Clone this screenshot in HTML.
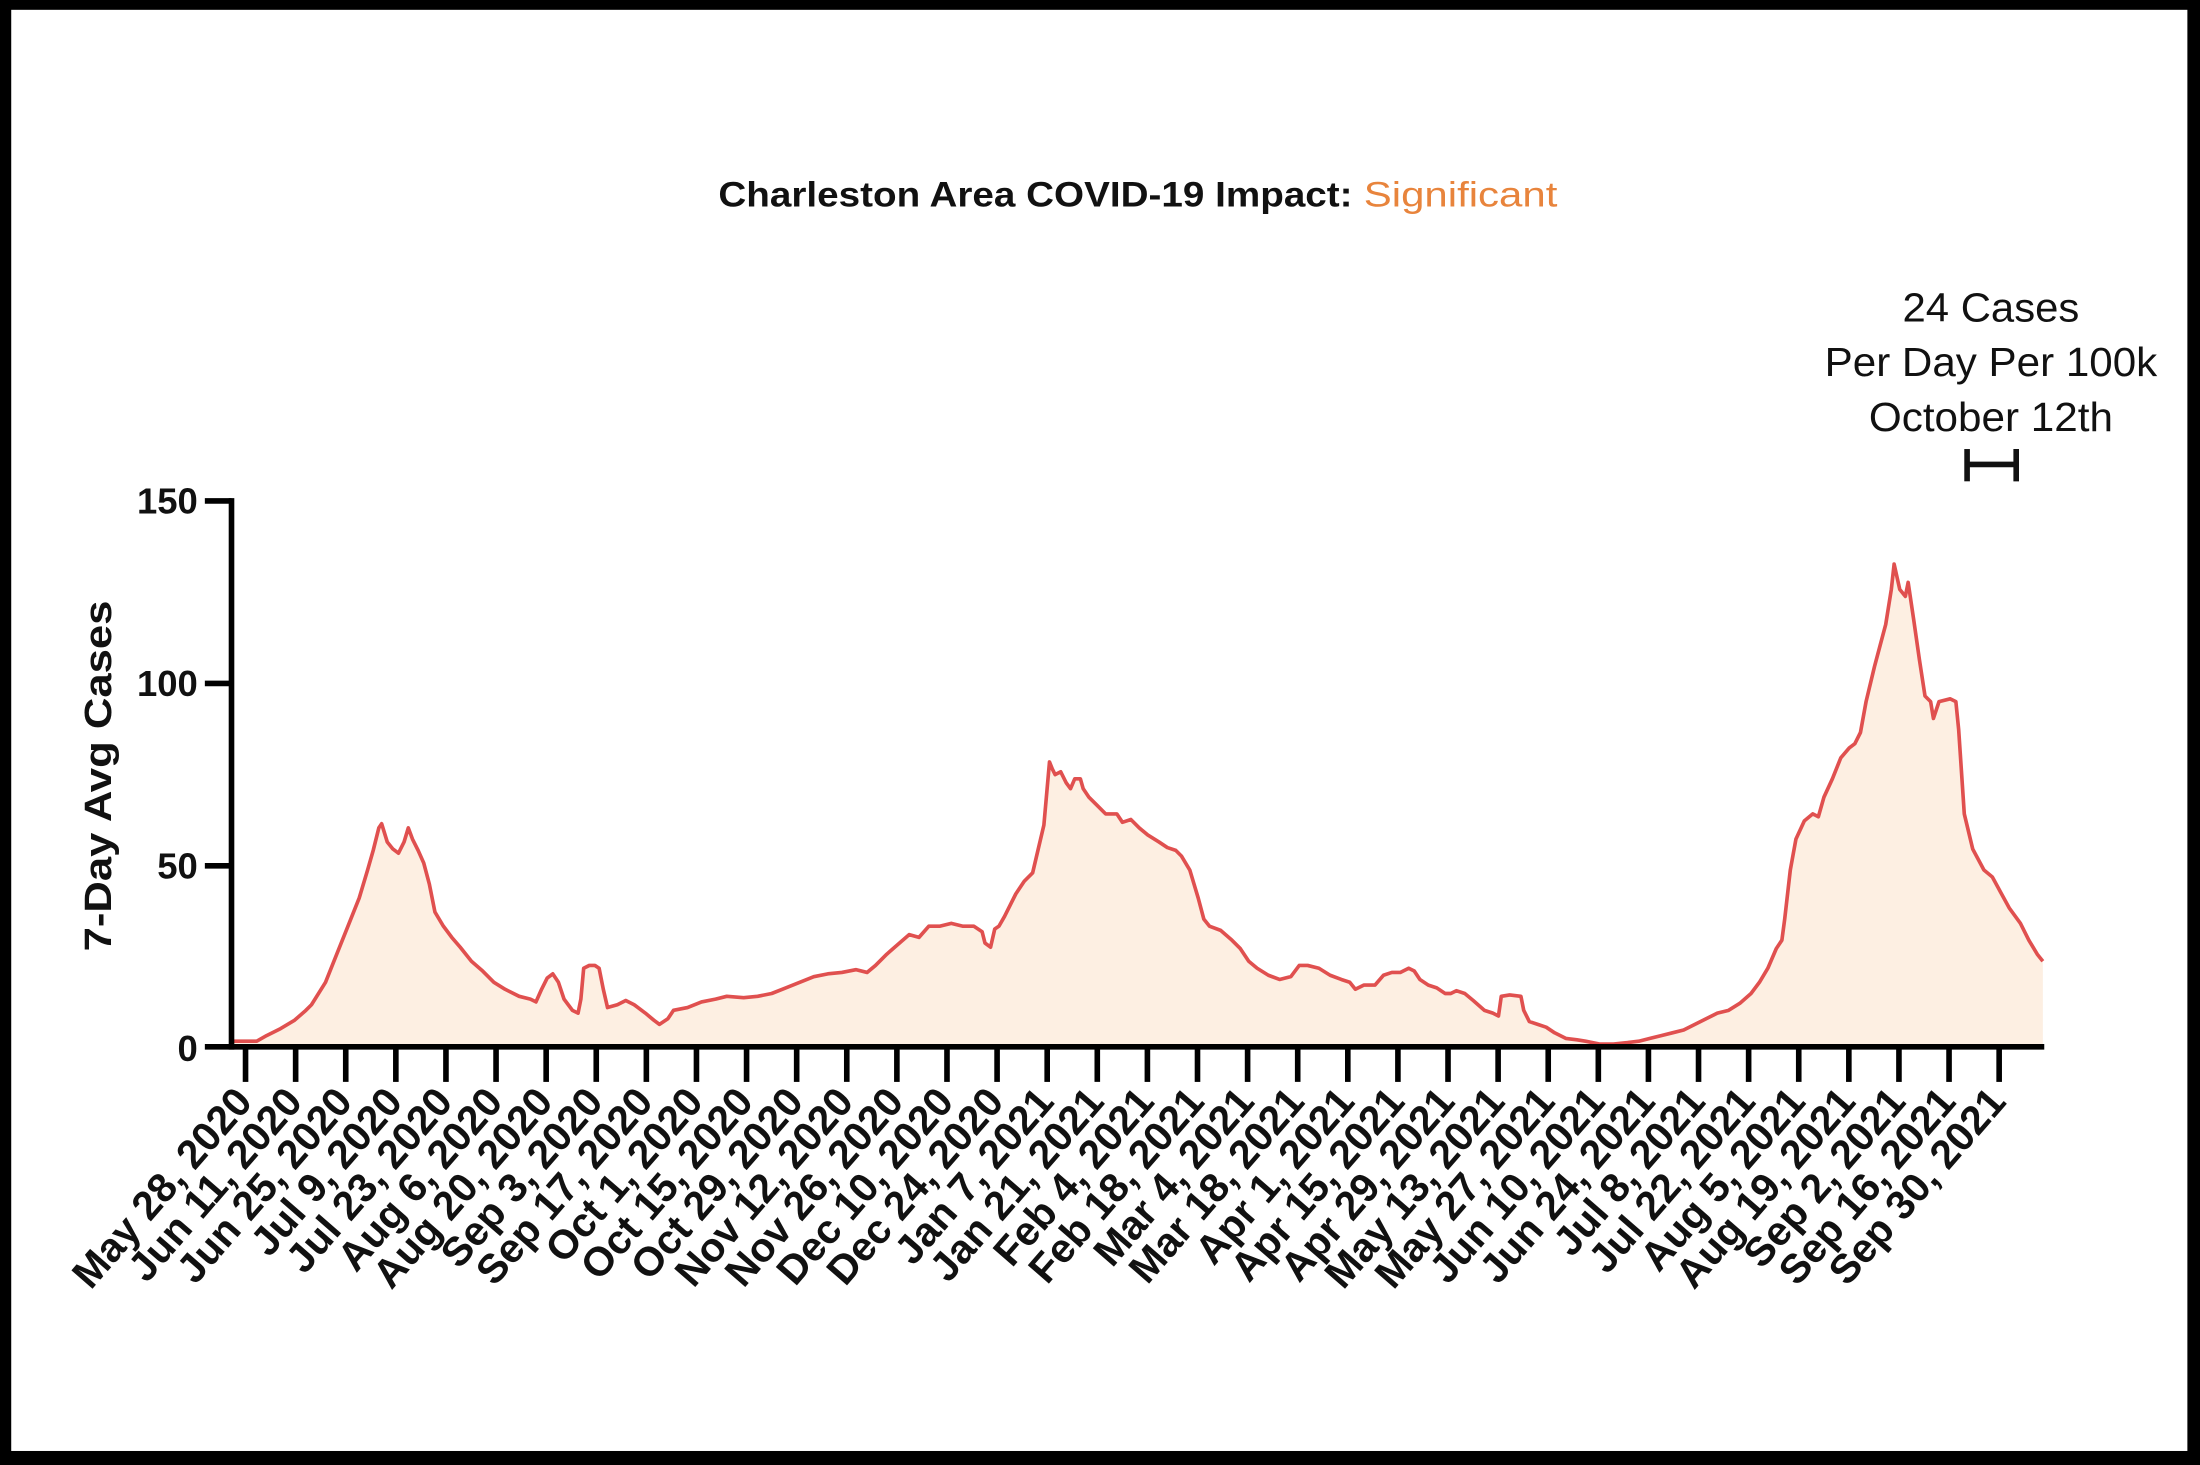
<!DOCTYPE html>
<html><head><meta charset="utf-8"><style>
html,body{margin:0;padding:0;background:#fff;}
body{width:2200px;height:1465px;overflow:hidden;position:relative;}
svg{position:absolute;left:0;top:0;}
</style></head><body>
<svg width="2200" height="1465" viewBox="0 0 1568 1044" preserveAspectRatio="none" font-family="Liberation Sans, Arial, sans-serif">
<rect x="0" y="0" width="1568" height="1044" fill="#000"/>
<rect x="8" y="7" width="1551" height="1027" fill="#fff"/>
<text x="512" y="147" font-size="25" font-weight="bold" fill="#111" textLength="452" lengthAdjust="spacingAndGlyphs">Charleston Area COVID-19 Impact:</text>
<text x="972" y="147" font-size="25" fill="#e8843c" textLength="138" lengthAdjust="spacingAndGlyphs">Significant</text>
<g font-size="29" fill="#111" text-anchor="middle">
<text x="1419" y="229" textLength="126" lengthAdjust="spacingAndGlyphs">24 Cases</text>
<text x="1419" y="268" textLength="237" lengthAdjust="spacingAndGlyphs">Per Day Per 100k</text>
<text x="1419" y="307" textLength="174" lengthAdjust="spacingAndGlyphs">October 12th</text>
</g>
<g stroke="#111" stroke-width="4">
<line x1="1402" y1="320" x2="1402" y2="343"/>
<line x1="1437" y1="320" x2="1437" y2="343"/>
<line x1="1402" y1="331" x2="1437" y2="331"/>
</g>
<path id="area" fill="#fdefe2" stroke="none" d=""/>
<path id="line" fill="none" stroke="#e0504f" stroke-width="2.6" stroke-linejoin="round" d=""/>
<g stroke="#000" stroke-width="4">
<line x1="165" y1="355" x2="165" y2="748"/>
<line x1="146" y1="746" x2="1457" y2="746"/>
<line x1="146" y1="357" x2="165" y2="357"/>
<line x1="146" y1="487" x2="165" y2="487"/>
<line x1="146" y1="617" x2="165" y2="617"/>
</g>
<g id="ticks" stroke="#000" stroke-width="4"></g>
<g font-size="26" font-weight="bold" fill="#111" text-anchor="end">
<text x="141" y="366">150</text>
<text x="141" y="496">100</text>
<text x="141" y="626">50</text>
<text x="141" y="756">0</text>
</g>
<text transform="translate(79,553) rotate(-90)" font-size="27" font-weight="bold" fill="#111" text-anchor="middle" textLength="250" lengthAdjust="spacingAndGlyphs">7-Day Avg Cases</text>
<g id="xl" font-size="29" font-weight="bold" fill="#111" text-anchor="end"></g>
</svg>
<script>
var p=[165,742,183,742,190,738,200,733,210,727,218,720,222,716,232,700,240,680,248,660,256,640,262,620,266,606,270,590,272,587,276,600,280,605,284,608,288,600,291,590,294,598,298,606,302,615,306,630,310,650,316,660,322,668,328,675,336,685,344,692,352,700,360,705,370,710,378,712,382,714,386,705,390,697,394,694,398,700,402,712,408,720,412,722,414,712,416,690,420,688,424,688,427,690,430,705,433,718,440,716,446,713,452,716,460,722,466,727,470,730,476,726,480,720,490,718,500,714,510,712,518,710,530,711,540,710,550,708,560,704,570,700,580,696,590,694,600,693,610,691,618,693,624,688,632,680,640,673,648,666,655,668,662,660,670,660,678,658,686,660,694,660,700,664,702,672,706,675,709,662,712,660,716,653,720,645,724,637,730,628,736,622,740,605,744,588,748,543,750,548,752,552,756,550,760,558,763,562,766,555,770,555,772,562,776,568,782,574,788,580,796,580,800,586,806,584,812,590,818,595,826,600,832,604,838,606,842,610,848,620,854,640,858,655,862,660,870,663,878,670,884,676,890,685,896,690,904,695,912,698,920,696,926,688,932,688,940,690,948,695,956,698,962,700,966,705,972,702,980,702,986,695,992,693,998,693,1004,690,1008,692,1012,698,1018,702,1024,704,1030,708,1034,708,1038,706,1044,708,1050,713,1058,720,1064,722,1068,724,1070,710,1076,709,1084,710,1086,720,1090,728,1096,730,1102,732,1108,736,1116,740,1124,741,1130,742,1140,744,1150,744,1160,743,1168,742,1176,740,1184,738,1192,736,1200,734,1208,730,1216,726,1224,722,1232,720,1240,715,1248,708,1254,700,1260,690,1266,676,1270,670,1272,655,1276,620,1280,598,1286,585,1292,580,1296,582,1300,568,1306,555,1312,540,1318,533,1322,530,1326,522,1330,500,1336,475,1340,460,1344,445,1348,420,1350,402,1354,420,1358,425,1360,415,1364,442,1368,470,1372,496,1376,500,1378,512,1382,500,1390,498,1394,500,1396,520,1400,580,1406,605,1414,620,1420,625,1426,636,1432,647,1440,658,1446,670,1452,680,1456,685];
var d="M"+p[0]+","+p[1];for(var i=2;i<p.length;i+=2)d+=" L"+p[i]+","+p[i+1];
document.getElementById('line').setAttribute('d',d);
document.getElementById('area').setAttribute('d',d+" L1456,746 L165,746 Z");
var labs=["May 28, 2020","Jun 11, 2020","Jun 25, 2020","Jul 9, 2020","Jul 23, 2020","Aug 6, 2020","Aug 20, 2020","Sep 3, 2020","Sep 17, 2020","Oct 1, 2020","Oct 15, 2020","Oct 29, 2020","Nov 12, 2020","Nov 26, 2020","Dec 10, 2020","Dec 24, 2020","Jan 7, 2021","Jan 21, 2021","Feb 4, 2021","Feb 18, 2021","Mar 4, 2021","Mar 18, 2021","Apr 1, 2021","Apr 15, 2021","Apr 29, 2021","May 13, 2021","May 27, 2021","Jun 10, 2021","Jun 24, 2021","Jul 8, 2021","Jul 22, 2021","Aug 5, 2021","Aug 19, 2021","Sep 2, 2021","Sep 16, 2021","Sep 30, 2021"];
var ns="http://www.w3.org/2000/svg",tg=document.getElementById('ticks'),xl=document.getElementById('xl');
for(var k=0;k<labs.length;k++){var x=175+k*35.71;
var l=document.createElementNS(ns,'line');l.setAttribute('x1',x);l.setAttribute('x2',x);l.setAttribute('y1',746);l.setAttribute('y2',771);tg.appendChild(l);
var t=document.createElementNS(ns,'text');t.setAttribute('transform','translate('+(x+6)+',786) rotate(-49)');t.textContent=labs[k];xl.appendChild(t);}
</script>
</body></html>
